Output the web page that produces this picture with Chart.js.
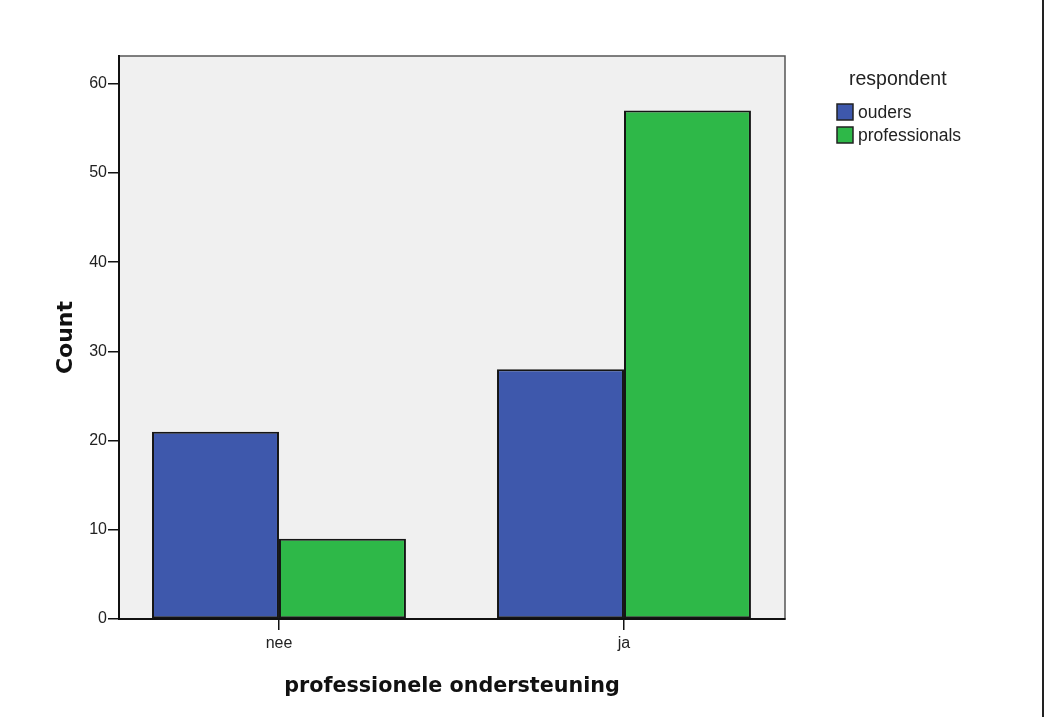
<!DOCTYPE html>
<html>
<head>
<meta charset="utf-8">
<script src="https://cdn.jsdelivr.net/npm/chart.js@4/dist/chart.umd.min.js"></script>
<style>
  html, body { margin: 0; padding: 0; background: #fff; }
  #wrap { width: 1042px; height: 717px; border-right: 2px solid #222; }
  canvas { display: block; }
</style>
</head>
<body>
<div id="wrap"><canvas id="chart" width="1042" height="717"></canvas></div>
<script>
// data
var categories = ['nee', 'ja'];
var seriesNames = ['ouders', 'professionals'];
var ouders = [21, 28];
var professionals = [9, 57];
var yTicks = [0, 10, 20, 30, 40, 50, 60];

var colors = ['#3E58AC', '#2EB848'];

function toPoints(vals) {
    var pts = [];
    for (var i = 0; i < vals.length; i++) {
        pts.push({ x: i, y: vals[i] });
    }
    return pts;
}

var plotBg = {
    id: 'plotBg',
    beforeDraw: function(chart) {
        var a = chart.chartArea;
        var ctx = chart.ctx;
        ctx.save();
        ctx.fillStyle = '#F0F0F0';
        ctx.fillRect(a.left, a.top, a.right - a.left, a.bottom - a.top);
        ctx.strokeStyle = '#555';
        ctx.lineWidth = 1.5;
        ctx.strokeRect(a.left, a.top, a.right - a.left, a.bottom - a.top);
        ctx.restore();
    }
};

var sideLegend = {
    id: 'sideLegend',
    afterDraw: function(chart) {
        var ctx = chart.ctx;
        var x = 837, y = 104;
        ctx.save();
        ctx.fillStyle = '#222';
        ctx.font = '19.5px "Liberation Sans", Arial, sans-serif';
        ctx.textBaseline = 'middle';
        ctx.textAlign = 'left';
        ctx.fillText('respondent', 849, 80);
        ctx.font = '17.5px "Liberation Sans", Arial, sans-serif';
        chart.data.datasets.forEach(function(ds, i) {
            var by = y + i * 23;
            ctx.fillStyle = ds.backgroundColor;
            ctx.fillRect(x, by, 16, 16);
            ctx.strokeStyle = '#222';
            ctx.lineWidth = 1.5;
            ctx.strokeRect(x, by, 16, 16);
            ctx.fillStyle = '#222';
            ctx.fillText(ds.label, x + 21, by + 9);
        });
        ctx.restore();
    }
};

var ctx = document.getElementById('chart').getContext('2d');
var chart = new Chart(ctx, {
    type: 'bar',
    data: {
        datasets: [{
            label: seriesNames[0],
            data: toPoints(ouders),
            backgroundColor: colors[0],
            borderColor: '#151515',
            borderWidth: 2,
            borderSkipped: false
        }, {
            label: seriesNames[1],
            data: toPoints(professionals),
            backgroundColor: colors[1],
            borderColor: '#151515',
            borderWidth: 2,
            borderSkipped: false
        }]
    },
    options: {
        responsive: false,
        animation: false,
        categoryPercentage: 0.736,
        barPercentage: 1,
        layout: { padding: { left: 0, top: 56, right: 257, bottom: 0 } },
        plugins: {
            legend: { display: false },
            tooltip: { enabled: false }
        },
        scales: {
            x: {
                type: 'linear',
                min: -0.4637,
                max: 1.4667,
                offset: false,
                afterBuildTicks: function(scale) {
                    scale.ticks = categories.map(function(c, i) { return { value: i }; });
                },
                afterFit: function(scale) { scale.height = 98; },
                ticks: {
                    callback: function(v) { return categories[v]; },
                    font: { family: '"Liberation Sans", Arial, sans-serif', size: 16 },
                    color: '#222',
                    padding: 4
                },
                grid: { offset: false, drawOnChartArea: false, drawTicks: true, tickLength: 11, color: '#111', lineWidth: 1.5 },
                border: { color: '#111', width: 2 },
                title: {
                    display: true,
                    text: 'professionele ondersteuning',
                    font: { family: '"DejaVu Sans", Verdana, sans-serif', size: 20.7, weight: 'bold' },
                    color: '#111',
                    padding: { top: 0, bottom: 18 }
                }
            },
            y: {
                min: 0,
                max: 63.1,
                afterBuildTicks: function(scale) {
                    scale.ticks = yTicks.map(function(v) { return { value: v }; });
                },
                afterFit: function(scale) { scale.width = 119; },
                ticks: {
                    font: { family: '"Liberation Sans", Arial, sans-serif', size: 16 },
                    color: '#222',
                    padding: 1
                },
                grid: { drawOnChartArea: false, drawTicks: true, tickLength: 11, color: '#111', lineWidth: 1.5 },
                border: { color: '#111', width: 2 },
                title: {
                    display: true,
                    text: 'Count',
                    font: { family: '"DejaVu Sans", Verdana, sans-serif', size: 22, weight: 'bold' },
                    color: '#111',
                    padding: { top: 53, bottom: 0 }
                }
            }
        }
    },
    plugins: [plotBg, sideLegend]
});
</script>
</body>
</html>
